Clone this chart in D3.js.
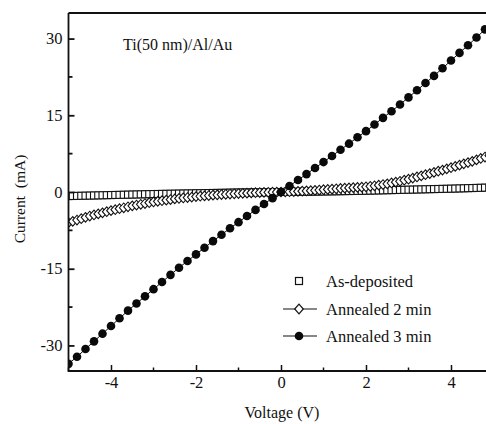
<!DOCTYPE html>
<html>
<head>
<meta charset="utf-8">
<script src="https://cdn.jsdelivr.net/npm/d3@7"></script>
<style>
  html, body { margin: 0; padding: 0; background: #fff; }
  svg { display: block; }
  svg text { font-family: "Liberation Serif", "Times New Roman", Times, serif !important; fill: #111; }
</style>
</head>
<body>
<svg id="chart" width="486" height="424"></svg>
<script>
// I–V sweeps of Ti(50 nm)/Al/Au contacts, voltage in V, current in mA

// As-deposited and 2-min anneal sweeps, 0.1 V steps
const voltageFine = [
  -5.0,-4.9,-4.8,-4.7,-4.6,-4.5,-4.4,-4.3,-4.2,-4.1,
  -4.0,-3.9,-3.8,-3.7,-3.6,-3.5,-3.4,-3.3,-3.2,-3.1,
  -3.0,-2.9,-2.8,-2.7,-2.6,-2.5,-2.4,-2.3,-2.2,-2.1,
  -2.0,-1.9,-1.8,-1.7,-1.6,-1.5,-1.4,-1.3,-1.2,-1.1,
  -1.0,-0.9,-0.8,-0.7,-0.6,-0.5,-0.4,-0.3,-0.2,-0.1,
  0.0,0.1,0.2,0.3,0.4,0.5,0.6,0.7,0.8,0.9,
  1.0,1.1,1.2,1.3,1.4,1.5,1.6,1.7,1.8,1.9,
  2.0,2.1,2.2,2.3,2.4,2.5,2.6,2.7,2.8,2.9,
  3.0,3.1,3.2,3.3,3.4,3.5,3.6,3.7,3.8,3.9,
  4.0,4.1,4.2,4.3,4.4,4.5,4.6,4.7,4.8,4.9,
  5.0
];

const asDeposited = [
  -0.80,-0.78,-0.76,-0.74,-0.72,-0.70,-0.68,-0.66,-0.64,-0.62,
  -0.60,-0.58,-0.56,-0.54,-0.52,-0.50,-0.48,-0.46,-0.44,-0.42,
  -0.40,-0.39,-0.37,-0.36,-0.34,-0.33,-0.31,-0.30,-0.28,-0.27,
  -0.25,-0.24,-0.22,-0.21,-0.19,-0.18,-0.16,-0.15,-0.13,-0.12,
  -0.10,-0.09,-0.08,-0.07,-0.06,-0.05,-0.04,-0.03,-0.02,-0.01,
  0.00,0.01,0.02,0.03,0.04,0.05,0.06,0.07,0.08,0.09,
  0.10,0.11,0.13,0.14,0.16,0.17,0.19,0.20,0.22,0.23,
  0.25,0.27,0.29,0.31,0.33,0.35,0.37,0.39,0.41,0.43,
  0.45,0.47,0.49,0.51,0.53,0.55,0.57,0.59,0.61,0.63,
  0.65,0.67,0.70,0.72,0.75,0.77,0.80,0.82,0.85,0.87,
  0.90
];

const annealed2 = [
  -6.00,-5.74,-5.48,-5.22,-4.96,-4.70,-4.49,-4.28,-4.07,-3.86,
  -3.65,-3.46,-3.27,-3.08,-2.89,-2.70,-2.55,-2.40,-2.25,-2.10,
  -1.95,-1.83,-1.71,-1.59,-1.47,-1.35,-1.26,-1.17,-1.08,-0.99,
  -0.90,-0.83,-0.76,-0.69,-0.62,-0.55,-0.50,-0.45,-0.40,-0.35,
  -0.30,-0.26,-0.22,-0.18,-0.14,-0.10,-0.08,-0.06,-0.04,-0.02,
  0.00,0.02,0.05,0.08,0.11,0.15,0.20,0.26,0.32,0.38,
  0.45,0.51,0.57,0.63,0.69,0.75,0.80,0.85,0.90,0.95,
  1.02,1.12,1.22,1.34,1.46,1.60,1.76,1.92,2.10,2.30,
  2.50,2.72,2.94,3.16,3.38,3.60,3.83,4.06,4.29,4.52,
  4.75,5.00,5.25,5.50,5.75,6.00,6.28,6.56,6.84,7.12,
  7.40
];

// 3-min anneal sweep, 0.2 V steps
const voltageCoarse = [
  -5.0,-4.8,-4.6,-4.4,-4.2,-4.0,-3.8,-3.6,-3.4,-3.2,
  -3.0,-2.8,-2.6,-2.4,-2.2,-2.0,-1.8,-1.6,-1.4,-1.2,
  -1.0,-0.8,-0.6,-0.4,-0.2,0.0,0.2,0.4,0.6,0.8,
  1.0,1.2,1.4,1.6,1.8,2.0,2.2,2.4,2.6,2.8,
  3.0,3.2,3.4,3.6,3.8,4.0,4.2,4.4,4.6,4.8,
  5.0
];

const annealed3 = [
  -33.6,-32.2,-30.7,-29.2,-27.7,-26.2,-24.7,-23.2,-21.8,-20.4,
  -19.0,-17.6,-16.2,-14.8,-13.5,-12.2,-10.9,-9.6,-8.35,-7.1,
  -5.9,-4.7,-3.5,-2.35,-1.2,0.0,1.17,2.35,3.5,4.7,
  5.85,7.05,8.25,9.45,10.7,11.9,13.2,14.5,15.8,17.1,
  18.5,19.9,21.3,22.7,24.2,25.7,27.2,28.7,30.2,31.8,
  33.4
];

const xMajorTicks = [-4, -2, 0, 2, 4];
const xMinorTicks = [-5, -3, -1, 1, 3, 5];
const yMajorTicks = [-30, -15, 0, 15, 30];
const yMinorTicks = [-22.5, -7.5, 7.5, 22.5];

const legendLabels = ["As-deposited", "Annealed 2 min", "Annealed 3 min"];

const FONT = "'Liberation Serif', 'Times New Roman', Times, serif";
const svg = d3.select("#chart").style("font-family", FONT);
const W = 486, H = 424;

const x = d3.scaleLinear().domain([-5, 5]).range([68.5, 493.5]);
const y = d3.scaleLinear().domain([-35, 35]).range([371, 13]);

const clipId = "plot-clip";
svg.append("defs").append("clipPath").attr("id", clipId)
  .append("rect").attr("x", x(-5)).attr("y", y(35)).attr("width", W - x(-5)).attr("height", y(-35) - y(35));

const plot = svg.append("g").attr("clip-path", `url(#${clipId})`);

// As-deposited: open squares
const sq = 7;
plot.append("g").selectAll("rect")
  .data(voltageFine.map((v, i) => [v, asDeposited[i]]))
  .join("rect")
  .attr("x", d => x(d[0]) - sq / 2)
  .attr("y", d => y(d[1]) - sq / 2)
  .attr("width", sq).attr("height", sq)
  .attr("fill", "#fff").attr("stroke", "#111").attr("stroke-width", 1.1);

// Annealed 2 min: open diamonds joined by a line
const line = d3.line().x(d => x(d[0])).y(d => y(d[1]));
const a2 = voltageFine.map((v, i) => [v, annealed2[i]]);
plot.append("path").datum(a2).attr("d", line)
  .attr("fill", "none").attr("stroke", "#111").attr("stroke-width", 1);
const diamond = (cx, cy) => `M${cx - 4.3},${cy}L${cx},${cy - 4.8}L${cx + 4.3},${cy}L${cx},${cy + 4.8}Z`;
plot.append("g").selectAll("path")
  .data(a2)
  .join("path")
  .attr("d", d => diamond(x(d[0]), y(d[1])))
  .attr("fill", "#fff").attr("stroke", "#111").attr("stroke-width", 1.1);

// Annealed 3 min: filled circles joined by a line
const a3 = voltageCoarse.map((v, i) => [v, annealed3[i]]);
plot.append("path").datum(a3).attr("d", line)
  .attr("fill", "none").attr("stroke", "#111").attr("stroke-width", 1);
plot.append("g").selectAll("circle")
  .data(a3)
  .join("circle")
  .attr("cx", d => x(d[0])).attr("cy", d => y(d[1]))
  .attr("r", 4.3).attr("fill", "#0a0a0a");

// Frame: left, top and bottom edges
const frame = svg.append("g").attr("stroke", "#111").attr("stroke-width", 1.8).attr("fill", "none");
frame.append("path").attr("d", `M${x(-5)},${y(35)}H${W}`);
frame.append("path").attr("d", `M${x(-5)},${y(35)}V${y(-35)}H${W}`);

const signed = d => d < 0 ? "-" + Math.abs(d) : String(d);

// Bottom axis with inward ticks
const xAxis = d3.axisBottom(x).tickValues(xMajorTicks).tickSizeInner(-6).tickSizeOuter(0).tickPadding(5)
  .tickFormat(signed);
const gx = svg.append("g").attr("transform", `translate(0,${y(-35)})`).call(xAxis)
  .attr("font-family", FONT).attr("font-size", 16.5);
gx.select(".domain").remove();
gx.selectAll("line").attr("stroke", "#111").attr("stroke-width", 1.5);
gx.selectAll("text").attr("fill", "#111");
svg.append("g").selectAll("line").data(xMinorTicks).join("line")
  .attr("x1", d => x(d)).attr("x2", d => x(d))
  .attr("y1", y(-35)).attr("y2", y(-35) - 3.5)
  .attr("stroke", "#111").attr("stroke-width", 1.5);

// Left axis with inward ticks
const yAxis = d3.axisLeft(y).tickValues(yMajorTicks).tickSizeInner(-6).tickSizeOuter(0).tickPadding(6)
  .tickFormat(signed);
const gy = svg.append("g").attr("transform", `translate(${x(-5)},0)`).call(yAxis)
  .attr("font-family", FONT).attr("font-size", 16.5);
gy.select(".domain").remove();
gy.selectAll("line").attr("stroke", "#111").attr("stroke-width", 1.8);
gy.selectAll("text").attr("fill", "#111");
svg.append("g").selectAll("line").data(yMinorTicks).join("line")
  .attr("x1", x(-5)).attr("x2", x(-5) + 4)
  .attr("y1", d => y(d)).attr("y2", d => y(d))
  .attr("stroke", "#111").attr("stroke-width", 1.8);

// Axis titles
svg.append("text").attr("x", 282).attr("y", 418).attr("text-anchor", "middle")
  .attr("font-size", 16).text("Voltage (V)");
svg.append("text").attr("transform", "translate(25,199) rotate(-90)").attr("text-anchor", "middle")
  .attr("font-size", 15.5).style("white-space", "pre").text("Current  (mA)");

// Sample annotation
svg.append("text").attr("x", 123).attr("y", 50).attr("font-size", 16).text("Ti(50 nm)/Al/Au");

// Legend
const lg = svg.append("g");
const rowsY = [281, 309, 336];
const lx = 299;
lg.append("rect").attr("x", lx - 3.5).attr("y", rowsY[0] - 3.5).attr("width", 7).attr("height", 7)
  .attr("fill", "#fff").attr("stroke", "#111").attr("stroke-width", 1.2);
[1, 2].forEach(i => {
  lg.append("line").attr("x1", 283).attr("x2", 317).attr("y1", rowsY[i]).attr("y2", rowsY[i])
    .attr("stroke", "#111").attr("stroke-width", 1.2);
});
lg.append("path").attr("d", diamond(lx, rowsY[1])).attr("fill", "#fff").attr("stroke", "#111").attr("stroke-width", 1.2);
lg.append("circle").attr("cx", lx).attr("cy", rowsY[2]).attr("r", 4.3).attr("fill", "#0a0a0a");
lg.selectAll("text").data(legendLabels).join("text")
  .attr("x", 326).attr("y", (d, i) => rowsY[i] + 5.5)
  .attr("font-size", 16.5).text(d => d);
</script>
</body>
</html>
